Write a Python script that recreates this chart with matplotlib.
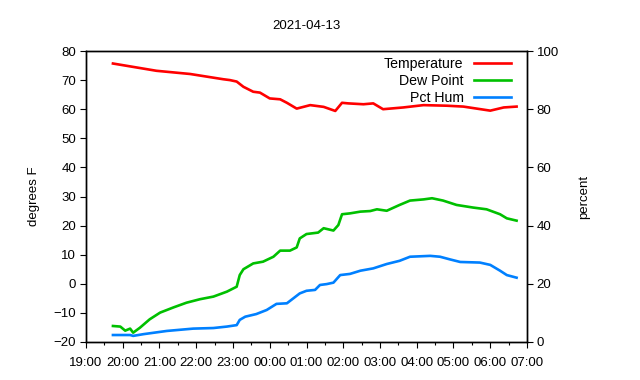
#!/usr/bin/env python
import sys

import matplotlib
matplotlib.use('Agg')
import matplotlib.pyplot as plt
import matplotlib.dates as mdates
import pandas as pd

plt.rcParams['font.family'] = ['Liberation Sans', 'DejaVu Sans']
plt.rcParams['font.size'] = 9.5

TITLE = '2021-04-13'

TEMP_TIMES = ['19:44', '20:55', '21:50', '22:44', '22:55', '23:06', '23:17',
              '23:33', '23:44', '00:00', '00:17', '00:28', '00:44', '01:06',
              '01:28', '01:47', '01:58', '02:08', '02:33', '02:49', '03:05',
              '03:38', '04:11', '04:49', '05:16', '06:00', '06:22', '06:43']
TEMP_F = [75.7, 73.2, 72.1, 70.3, 70.0, 69.5, 67.7,
          66.0, 65.7, 63.7, 63.4, 62.2, 60.2, 61.4,
          60.8, 59.4, 62.2, 62.0, 61.7, 62.0, 60.0,
          60.6, 61.4, 61.2, 60.9, 59.5, 60.6, 60.9]

DEW_TIMES = ['19:44', '19:56', '20:04', '20:12', '20:17', '20:28', '20:44',
             '21:01', '21:23', '21:44', '22:06', '22:28', '22:50', '23:06',
             '23:11', '23:17', '23:33', '23:49', '00:06', '00:17', '00:33',
             '00:44', '00:49', '01:00', '01:19', '01:28', '01:44', '01:52',
             '01:58', '02:11', '02:28', '02:44', '02:55', '03:11', '03:32',
             '03:49', '04:11', '04:25', '04:43', '05:05', '05:32', '05:54',
             '06:16', '06:27', '06:43']
DEW_F = [-14.5, -14.7, -16.1, -15.4, -16.8, -15.1, -12.2,
         -9.9, -8.1, -6.5, -5.3, -4.4, -2.7, -1.0,
         3.0, 5.0, 7.0, 7.6, 9.3, 11.4, 11.4,
         12.5, 15.6, 17.1, 17.6, 19.1, 18.3, 20.2,
         23.9, 24.2, 24.8, 25.0, 25.6, 25.1, 27.1,
         28.6, 29.0, 29.4, 28.6, 27.1, 26.2, 25.6,
         23.9, 22.5, 21.7]

HUM_TIMES = ['19:44', '20:12', '20:17', '20:34', '21:12', '21:55', '22:28',
             '22:50', '23:06', '23:11', '23:20', '23:38', '23:55', '00:11',
             '00:28', '00:49', '01:00', '01:14', '01:22', '01:33', '01:44',
             '01:55', '02:11', '02:28', '02:49', '03:11', '03:32', '03:49',
             '04:22', '04:38', '04:54', '05:11', '05:43', '06:00', '06:16',
             '06:27', '06:43']
HUM_PCT = [2.4, 2.4, 2.1, 2.7, 3.8, 4.6, 4.8,
           5.3, 5.8, 7.6, 8.7, 9.6, 11.0, 13.1,
           13.3, 16.7, 17.6, 17.9, 19.6, 19.9, 20.4,
           23.0, 23.4, 24.5, 25.3, 26.8, 27.9, 29.3,
           29.6, 29.3, 28.4, 27.5, 27.3, 26.5, 24.5,
           23.0, 22.1]


def to_dt(times):
    out = []
    for t in times:
        day = '2021-04-13' if int(t[:2]) >= 12 else '2021-04-14'
        out.append(pd.Timestamp(day + ' ' + t))
    return out


def main():
    fig = plt.figure(figsize=(6.4, 3.8), dpi=100)
    ax = fig.add_axes([86 / 640, 38 / 380, 441 / 640, 291 / 380])
    ax2 = ax.twinx()

    l1, = ax.plot(to_dt(TEMP_TIMES), TEMP_F, color='#ff0000', lw=1.9,
                  label='Temperature')
    l2, = ax.plot(to_dt(DEW_TIMES), DEW_F, color='#00c000', lw=1.9,
                  label='Dew Point')
    l3, = ax2.plot(to_dt(HUM_TIMES), HUM_PCT, color='#0080ff', lw=1.9,
                   label='Pct Hum')

    ax.set_xlim(pd.Timestamp('2021-04-13 19:00'),
                pd.Timestamp('2021-04-14 07:00'))
    ax.set_ylim(-20, 80)
    ax.set_yticks(range(-20, 81, 10))
    ax2.set_ylim(0, 100)
    ax2.set_yticks(range(0, 101, 20))

    ax.xaxis.set_major_locator(mdates.HourLocator())
    ax.xaxis.set_minor_locator(mdates.MinuteLocator(byminute=30))
    ax.xaxis.set_major_formatter(mdates.DateFormatter('%H:%M'))

    for a in (ax, ax2):
        a.tick_params(direction='out', length=4, width=0.8, colors='black',
                      labelsize=9.5, pad=3)
        a.tick_params(which='minor', direction='out', length=2, width=0.8)
        for s in a.spines.values():
            s.set_linewidth(1.0)
    ax.tick_params(axis='x', pad=7)

    ax.set_ylabel('degrees F', labelpad=10)
    ax2.set_ylabel('percent', labelpad=14)
    ax.set_title(TITLE, pad=16, fontsize=9.5)

    # markerfirst=False packs the rows right-aligned, like gnuplot's key
    ax2.legend(handles=[l1, l2, l3], loc='upper right',
               bbox_to_anchor=(1 - 16 / 441, 1 - 6 / 291), frameon=False,
               markerfirst=False, handlelength=2.6, handletextpad=0.75,
               labelspacing=0.22, borderaxespad=0, borderpad=0,
               fontsize=10.2)

    fig.savefig('out.png', dpi=100)


if __name__ == '__main__':
    sys.exit(main())
